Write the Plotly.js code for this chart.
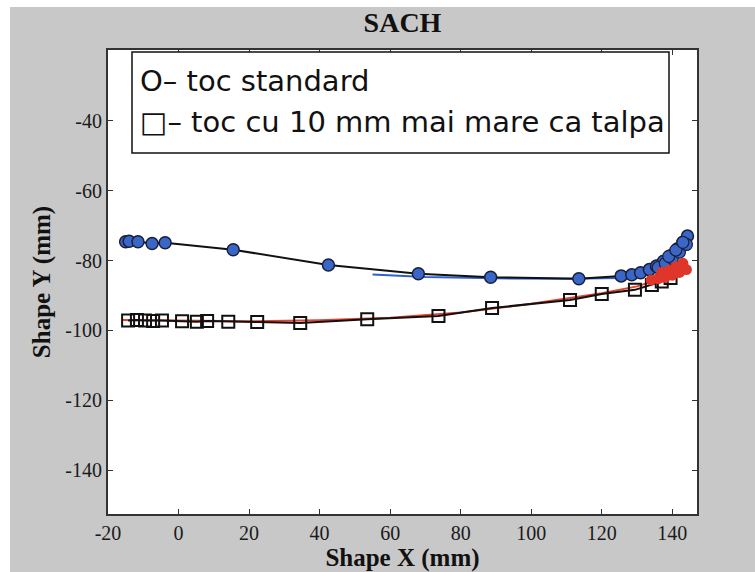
<!DOCTYPE html>
<html>
<head>
<meta charset="utf-8">
<script src="https://cdn.plot.ly/plotly-3.0.1.min.js"></script>
<style>html,body{margin:0;padding:0;background:#c8c8c8;overflow:hidden;}#chart{width:755px;height:572px;}</style>
</head>
<body>
<div id="chart"></div>
<script>
// Series 1: "toc standard" (circles)
const stdX = [-15, -14, -11.5, -7.5, -3.8, 15.5, 42.5, 68, 88.5, 113.5, 125.5, 128.5, 131, 133.5, 135.5, 137.5, 139.5, 141.5, 143, 144.3];
const stdY = [-74.6, -74.5, -74.6, -75.1, -74.9, -76.9, -81.3, -83.8, -84.8, -85.2, -84.4, -84.1, -83.5, -82.6, -81.6, -80.2, -78.6, -76.6, -74.8, -73.0];
// Series 1 companion trial line (blue)
const stdTrialX = [55, 70, 90, 110, 125, 131, 135, 139, 142, 144.5];
const stdTrialY = [-84.0, -84.7, -85.1, -85.2, -85.0, -84.2, -82.4, -79.6, -76.8, -73.8];
// Blue cluster at the end of series 1
const stdEndX = [136, 138, 140, 142, 144, 139, 141, 143];
const stdEndY = [-82.0, -80.8, -79.4, -77.6, -75.4, -78.8, -77.0, -74.8];
// Series 2: "toc cu 10 mm mai mare ca talpa" (squares)
const bigX = [-14.3, -11.8, -9.5, -7.2, -4.7, 1.0, 5.2, 8.1, 14.1, 22.3, 34.5, 53.5, 73.7, 88.9, 111, 120, 129.4, 134.2, 137, 139.5];
const bigY = [-97.2, -97.0, -97.2, -97.3, -97.2, -97.4, -97.5, -97.3, -97.5, -97.6, -97.9, -96.8, -95.9, -93.6, -91.3, -89.6, -88.4, -87.0, -86.0, -85.0];
// Series 2 companion trial line (red)
const bigTrialX = [-16, 0, 20, 40, 60, 80, 100, 120, 130, 135, 139, 142, 144];
const bigTrialY = [-97.0, -97.2, -97.4, -97.1, -96.4, -94.9, -92.4, -89.4, -87.4, -85.8, -83.8, -82.0, -80.6];
// Red cluster at the end of series 2
const bigEndX = [134, 136, 138, 140, 142, 144, 137, 139, 141, 143];
const bigEndY = [-85.6, -85.2, -84.8, -84.2, -83.4, -82.6, -83.4, -82.8, -81.8, -80.8];

const xTicks = [-20, 0, 20, 40, 60, 80, 100, 120, 140];
const yTicks = [-140, -120, -100, -80, -60, -40];
const legendLines = ["O\u2013 toc standard", "\u25A1\u2013 toc cu 10 mm mai mare ca talpa"];
const chartTitle = "SACH";
const xTitle = "Shape X (mm)";
const yTitle = "Shape Y (mm)";

const traces = [
  {x: stdTrialX, y: stdTrialY, mode: 'lines', line: {color: '#2f5fd0', width: 2}, showlegend: false, hoverinfo: 'skip'},
  {x: bigTrialX, y: bigTrialY, mode: 'lines', line: {color: '#e8402c', width: 2}, showlegend: false, hoverinfo: 'skip'},
  {x: bigX, y: bigY, mode: 'lines+markers', line: {color: '#111', width: 2},
   marker: {symbol: 'square-open', size: 12, color: '#111', line: {width: 2}}, showlegend: false},
  {x: stdX, y: stdY, mode: 'lines+markers', line: {color: '#111', width: 2},
   marker: {symbol: 'circle', size: 12, color: '#3a66c8', line: {color: '#1a1f3a', width: 1.5}}, showlegend: false},
  {x: stdEndX, y: stdEndY, mode: 'markers', marker: {symbol: 'circle', size: 12, color: '#3a66c8', line: {color: '#1a1f3a', width: 1.2}}, showlegend: false},
  {x: bigEndX, y: bigEndY, mode: 'markers', marker: {symbol: 'circle', size: 11, color: '#e0362a', line: {width: 0}}, showlegend: false}
];

const L = 108, R = 697, T = 50, B = 514;
const W = R - L, H = B - T;
const px = v => (v - L) / W;
const py = v => 1 + (T - v) / H;

const serif = 'Liberation Serif, Times New Roman, serif';
const tickFont = {family: serif, size: 20, color: '#1a1a1a'};
const layout = {
  width: 755, height: 572,
  margin: {l: L, r: 755 - R, t: T, b: 572 - B, pad: 0},
  paper_bgcolor: '#c8c8c8',
  plot_bgcolor: '#ffffff',
  showlegend: false,
  title: {text: '<b>' + chartTitle + '</b>', font: {family: serif, size: 28, color: '#111'},
          x: 0.5 * (L + R) / 755, xanchor: 'center', y: 1 - 22 / 572, yanchor: 'middle'},
  xaxis: {
    range: [-20, 147], tickvals: xTicks, ticktext: xTicks.map(String),
    ticks: 'inside', ticklen: 5, tickcolor: '#333', mirror: 'ticks',
    showline: true, linecolor: '#333', linewidth: 2, showgrid: false, zeroline: false,
    tickfont: tickFont,
    title: {text: '<b>' + xTitle + '</b>', font: {family: serif, size: 25, color: '#111'}, standoff: 0}
  },
  yaxis: {
    range: [-152.6, -19.7], tickvals: yTicks, ticktext: yTicks.map(String),
    ticks: 'inside', ticklen: 5, tickcolor: '#333', mirror: 'ticks',
    showline: true, linecolor: '#333', linewidth: 2, showgrid: false, zeroline: false,
    tickfont: tickFont,
    title: {text: '<b>' + yTitle + '</b>', font: {family: serif, size: 25, color: '#111'}, standoff: 8}
  },
  shapes: [
    {type: 'rect', xref: 'paper', yref: 'paper', x0: px(132), x1: px(669), y0: py(153), y1: py(52),
     line: {color: '#111', width: 1.5}, fillcolor: '#ffffff', layer: 'above'},
    {type: 'rect', xref: 'paper', yref: 'paper', x0: px(0), x1: px(10), y0: py(572), y1: py(0),
     line: {width: 0}, fillcolor: '#ffffff', layer: 'above'},
    {type: 'rect', xref: 'paper', yref: 'paper', x0: px(0), x1: px(755), y0: py(7), y1: py(0),
     line: {width: 0}, fillcolor: '#ffffff', layer: 'above'},
    {type: 'rect', xref: 'paper', yref: 'paper', x0: px(740), x1: px(760), y0: py(580), y1: py(7),
     line: {width: 0}, fillcolor: '#c8c8c8', layer: 'above'}
  ],
  annotations: [
    {text: legendLines[0], xref: 'paper', yref: 'paper', x: px(138), y: py(81), xanchor: 'left', yanchor: 'middle', showarrow: false,
     font: {family: 'DejaVu Sans, Verdana, sans-serif', size: 29, color: '#111'}},
    {text: legendLines[1], xref: 'paper', yref: 'paper', x: px(138), y: py(122), xanchor: 'left', yanchor: 'middle', showarrow: false,
     font: {family: 'DejaVu Sans, Verdana, sans-serif', size: 29, color: '#111'}}
  ]
};

Plotly.newPlot('chart', traces, layout, {displayModeBar: false, staticPlot: true});
</script>
</body>
</html>
